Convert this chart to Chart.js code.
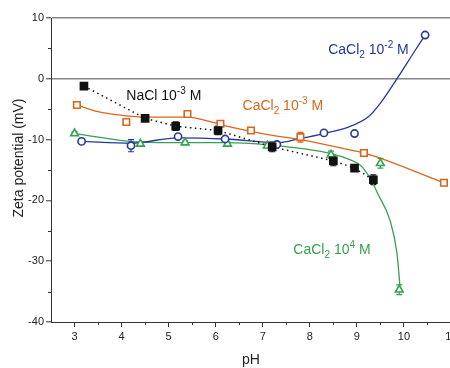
<!DOCTYPE html>
<html>
<head>
<meta charset="utf-8">
<script src="https://cdn.jsdelivr.net/npm/chart.js@4.4.0/dist/chart.umd.min.js"></script>
<style>
  html, body { margin: 0; padding: 0; background: #fff; overflow: hidden; }
  #wrap { width: 470px; height: 368px; }
</style>
</head>
<body>
<div id="wrap"><canvas id="zeta" width="470" height="368"></canvas></div>
<script>
// measured points: pH, zeta potential (mV), error (mV)
const phNaCl   = [3.2, 4.5, 5.15, 6.05, 7.2, 8.5, 8.95, 9.35];
const zetaNaCl = [-1.2, -6.5, -7.8, -8.5, -11.2, -13.5, -14.7, -16.6];
const errNaCl  = [0.3, 0.4, 0.7, 0.7, 0.8, 0.8, 0.5, 0.8];

const phCa3   = [3.05, 4.1, 5.4, 6.1, 6.75, 7.8, 9.15, 10.85];
const zetaCa3 = [-4.3, -7.1, -5.8, -7.4, -8.5, -9.6, -12.2, -17.1];
const errCa3  = [0.3, 0.3, 0.3, 0.3, 0.3, 0.8, 0.4, 0.3];

const phCa2   = [3.15, 4.2, 5.2, 6.2, 7.3, 8.3, 8.95, 10.45];
const zetaCa2 = [-10.3, -11.0, -9.5, -9.9, -10.8, -8.9, -9.0, 7.2];
const errCa2  = [0.3, 1.0, 0.3, 0.3, 0.3, 0.3, 0.3, 0.4];

const phCa4   = [3.0, 4.4, 5.35, 6.25, 7.1, 8.45, 9.5, 9.9];
const zetaCa4 = [-9.0, -10.7, -10.5, -10.7, -11.0, -12.5, -13.9, -34.7];
const errCa4  = [0.3, 0.3, 0.3, 0.3, 0.3, 0.6, 0.8, 0.8];

// trend lines through the CaCl2 series
const fitPhCa3   = [3.05, 3.5, 4.0, 4.5, 5.4, 5.9, 6.35, 7.05, 7.8, 8.85, 9.2, 10.85];
const fitZetaCa3 = [-4.3, -5.4, -6.0, -6.3, -6.3, -7.1, -8.0, -9.1, -10.0, -11.7, -12.3, -17.1];

const fitPhCa2   = [3.15, 4.2, 5.2, 6.2, 7.3, 7.8, 8.3, 8.8, 9.25, 9.5, 9.85, 10.2, 10.45];
const fitZetaCa2 = [-10.3, -10.6, -9.7, -9.9, -10.5, -9.8, -9.0, -8.0, -6.2, -4.0, 0, 4.2, 7.2];

const fitPhCa4   = [3.0, 4.4, 5.35, 6.25, 7.0, 8.45, 8.85, 9.1, 9.3, 9.45, 9.7, 9.85, 9.92];
const fitZetaCa4 = [-9.0, -10.4, -10.5, -10.5, -10.8, -12.3, -13.3, -14.4, -16.6, -19.0, -23.2, -28.6, -34.5];

// axis ticks
const xTicks = [3, 4, 5, 6, 7, 8, 9, 10, 11];
const yTicks = [-40, -30, -20, -10, 0, 10];

const BLUE = '#24389a', ORANGE = '#d9661f', GREEN = '#36a150', BLACK = '#111';
const FONT = "'Liberation Sans', Arial, Helvetica, sans-serif";

const pts = (xs, ys) => xs.map((x, i) => ({ x: x, y: ys[i] }));

function marker(label, xs, ys, errs, color, style, radius, fill) {
  return {
    type: 'line', label, data: pts(xs, ys), errors: errs,
    showLine: false, order: 0,
    pointStyle: style, pointRadius: radius,
    pointBorderColor: color, pointBackgroundColor: fill,
    pointBorderWidth: 1.6, borderColor: color
  };
}

function curve(xs, ys, color) {
  return {
    type: 'line', data: pts(xs, ys), order: 2,
    borderColor: color, borderWidth: 1.3, pointRadius: 0,
    cubicInterpolationMode: 'monotone', fill: false
  };
}

// vertical error bars with caps, drawn under the markers
const errorBars = {
  id: 'errorBars',
  beforeDatasetsDraw(chart) {
    const { ctx, scales: { x, y } } = chart;
    ctx.save();
    chart.data.datasets.forEach(ds => {
      if (!ds.errors) return;
      ctx.strokeStyle = ds.pointBorderColor;
      ctx.lineWidth = 1.2;
      ds.data.forEach((p, i) => {
        const px = x.getPixelForValue(p.x);
        const top = y.getPixelForValue(p.y + ds.errors[i]);
        const bot = y.getPixelForValue(p.y - ds.errors[i]);
        ctx.beginPath();
        ctx.moveTo(px, top); ctx.lineTo(px, bot);
        ctx.moveTo(px - 3, top); ctx.lineTo(px + 3, top);
        ctx.moveTo(px - 3, bot); ctx.lineTo(px + 3, bot);
        ctx.stroke();
      });
    });
    ctx.restore();
  }
};

// half-step ticks on both axes
const minorTicks = {
  id: 'minorTicks',
  afterDraw(chart) {
    const { ctx, chartArea: a, scales: { x, y } } = chart;
    ctx.save();
    ctx.strokeStyle = '#333';
    ctx.lineWidth = 1;
    ctx.beginPath();
    for (let v = 3.5; v < 11; v += 1) {
      const px = Math.round(x.getPixelForValue(v)) + 0.5;
      ctx.moveTo(px, a.bottom); ctx.lineTo(px, a.bottom + 3);
    }
    for (let v = -35; v < 10; v += 10) {
      const py = Math.round(y.getPixelForValue(v)) + 0.5;
      ctx.moveTo(a.left, py); ctx.lineTo(a.left - 3, py);
    }
    ctx.stroke();
    ctx.restore();
  }
};

// text with sub/superscripts: parts = [text, shift] (0 normal, -1 sub, 1 sup)
function richText(ctx, x, y, parts, size) {
  let cx = x;
  parts.forEach(([t, s]) => {
    const fs = s === 0 ? size : Math.round(size * 0.68);
    ctx.font = fs + 'px ' + FONT;
    const dy = s === 1 ? -size * 0.42 : s === -1 ? size * 0.3 : 0;
    ctx.fillText(t, cx, y + dy);
    cx += ctx.measureText(t).width;
  });
}

const labels = {
  id: 'labels',
  afterDraw(chart) {
    const { ctx, scales: { x, y } } = chart;
    ctx.save();
    ctx.textBaseline = 'alphabetic';
    ctx.textAlign = 'left';
    const put = (ph, mv, color, parts) => {
      ctx.fillStyle = color;
      richText(ctx, x.getPixelForValue(ph), y.getPixelForValue(mv), parts, 14);
    };
    put(4.1, -3.45, BLACK, [['NaCl 10', 0], ['-3', 1], [' M', 0]]);
    put(6.57, -5.1, ORANGE, [['CaCl', 0], ['2', -1], [' 10', 0], ['-3', 1], [' M', 0]]);
    put(8.39, 4.1, BLUE, [['CaCl', 0], ['2', -1], [' 10', 0], ['-2', 1], [' M', 0]]);
    put(7.65, -28.8, GREEN, [['CaCl', 0], ['2', -1], [' 10', 0], ['4', 1], [' M', 0]]);

    // axis titles
    ctx.fillStyle = '#222';
    ctx.font = '14px ' + FONT;
    ctx.textAlign = 'center';
    ctx.textBaseline = 'middle';
    ctx.fillText('pH', 251, 360);
    ctx.translate(19, 158);
    ctx.rotate(-Math.PI / 2);
    ctx.fillText('Zeta potential (mV)', 0, 0);
    ctx.restore();
  }
};

new Chart(document.getElementById('zeta'), {
  type: 'line',
  data: {
    datasets: [
      marker('NaCl 10-3 M', phNaCl, zetaNaCl, errNaCl, BLACK, 'rect', 5, BLACK),
      marker('CaCl2 10-3 M', phCa3, zetaCa3, errCa3, ORANGE, 'rect', 4.6, '#fff'),
      marker('CaCl2 10-2 M', phCa2, zetaCa2, errCa2, BLUE, 'circle', 3.6, '#fff'),
      marker('CaCl2 10-4 M', phCa4, zetaCa4, errCa4, GREEN, 'triangle', 4.5, '#fff'),
      {
        type: 'line', data: pts(phNaCl, zetaNaCl), order: 1,
        borderColor: BLACK, borderWidth: 1.5, borderDash: [1.5, 3.5],
        pointRadius: 0, tension: 0
      },
      curve(fitPhCa3, fitZetaCa3, ORANGE),
      curve(fitPhCa2, fitZetaCa2, BLUE),
      curve(fitPhCa4, fitZetaCa4, GREEN)
    ]
  },
  options: {
    responsive: false,
    animation: false,
    layout: { padding: { left: 0, right: 19, top: 18, bottom: 0 } },
    plugins: { legend: { display: false }, tooltip: { enabled: false } },
    scales: {
      x: {
        type: 'linear', min: 2.5, max: 11,
        afterBuildTicks: s => { s.ticks = xTicks.map(v => ({ value: v })); },
        afterFit: s => { s.height = 46; },
        ticks: { color: '#222', font: { size: 11, family: FONT }, padding: 3, maxRotation: 0 },
        grid: { drawOnChartArea: false, tickLength: 5, tickColor: '#333' },
        border: { color: '#333', width: 1 }
      },
      y: {
        type: 'linear', min: -40, max: 10,
        afterBuildTicks: s => { s.ticks = yTicks.map(v => ({ value: v })); },
        afterFit: s => { s.width = 51; },
        ticks: { color: '#222', font: { size: 11, family: FONT }, padding: 2 },
        grid: {
          color: c => (c.tick && (c.tick.value === 0 || c.tick.value === 10)) ? '#858585' : 'rgba(0,0,0,0)',
          lineWidth: 1.6, tickLength: 5, tickColor: '#333', tickWidth: 1
        },
        border: { color: '#333', width: 1 }
      }
    }
  },
  plugins: [errorBars, minorTicks, labels]
});
</script>
</body>
</html>
